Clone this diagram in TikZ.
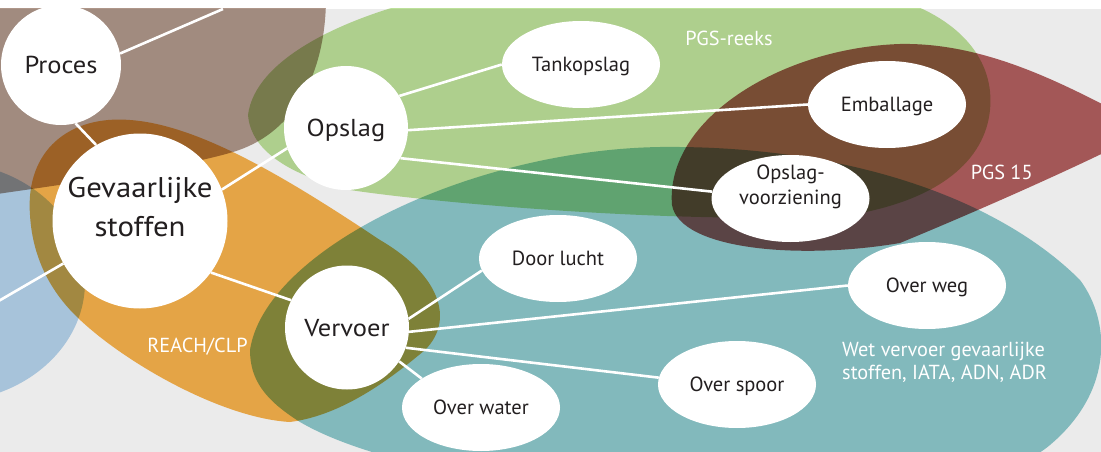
\documentclass[tikz,border=0pt]{standalone}
\usepackage{fontspec}
\setmainfont{PT Sans}
\newfontfamily\widefont[FakeStretch=1.08]{PT Sans}
\usetikzlibrary{shapes.geometric}
\definecolor{bggray}{HTML}{EBEBEB}
\definecolor{cbrown}{HTML}{AF978A}
\definecolor{cblue}{HTML}{B6D4ED}
\definecolor{corange}{HTML}{F8B34D}
\definecolor{cgreen}{HTML}{BDE19A}
\definecolor{cred}{HTML}{B15F5F}
\definecolor{cteal}{HTML}{8EC9CC}
\definecolor{txt}{HTML}{231F20}
\begin{document}
\begin{tikzpicture}[x=1pt,y=-1pt,
  blob/.style={blend mode=multiply},
  bigc/.style={circle, fill=white, inner sep=0pt, text=txt, align=center,
    font=\widefont\fontsize{24.5}{28}\selectfont, text height=17pt, text depth=0pt},
  smalle/.style={ellipse, fill=white, minimum width=158pt, minimum height=87pt,
    inner sep=0pt, text=txt, align=center,
    font=\fontsize{20.5}{25}\selectfont, text height=14.3pt, text depth=0pt},
  conn/.style={white, line width=2.6pt},
  lbl/.style={text=white, inner sep=0pt, font=\fontsize{20.3}{23.3}\selectfont,
    text height=14pt, text depth=0pt}
]
\useasboundingbox (0,0) rectangle (1101,452);
\fill[white] (0,0) rectangle (1101,452);
\begin{scope}
\clip (0,9) rectangle (1101,452);
\fill[bggray] (0,9) rectangle (1101,452);
% blue
\fill[blob, cblue] (-55,282) ellipse [x radius=140, y radius=120];
% brown
\fill[blob, cbrown] (-10,0) -- (326,0) .. controls (325,80) and (290,135) .. (233,152)
  .. controls (180,168) and (60,185) .. (-10,195) -- cycle;
% orange
\fill[blob, corange] (30,215) .. controls (25,150) and (70,115) .. (130,120)
  .. controls (200,125) and (290,180) .. (380,240)
  .. controls (440,275) and (455,320) .. (425,350)
  .. controls (395,375) and (345,415) .. (290,422)
  .. controls (220,418) and (120,360) .. (75,315)
  .. controls (45,285) and (32,250) .. (30,215) -- cycle;
% green
\fill[blob, cgreen] (248,115) .. controls (255,60) and (340,20) .. (420,0)
  -- (900,0) .. controls (960,20) and (995,60) .. (990,110)
  .. controls (985,160) and (940,200) .. (850,215)
  .. controls (700,225) and (450,205) .. (350,190)
  .. controls (270,170) and (250,140) .. (248,115) -- cycle;
% red
\fill[blob, cred] (672,205) .. controls (665,120) and (780,48) .. (900,44)
  .. controls (1000,42) and (1090,100) .. (1150,128)
  .. controls (1150,132) and (1040,185) .. (900,243)
  .. controls (800,260) and (680,250) .. (672,205) -- cycle;
% teal
\fill[blob, cteal] (250,350) .. controls (265,250) and (470,150) .. (660,147)
  .. controls (850,145) and (1000,200) .. (1080,280)
  .. controls (1110,320) and (1115,390) .. (1050,445)
  .. controls (950,530) and (450,510) .. (300,422)
  .. controls (265,400) and (250,380) .. (250,350) -- cycle;

% region labels
\node[lbl] (lpgs) at (729,38.3) {PGS-reeks};
\node[lbl] (lpgs15) at (1001.7,172.5) {PGS 15};
\node[lbl] (lreach) at (197.5,345.8) {REACH/CLP};
\node[lbl, anchor=north west, align=left] (lwet) at (842,365.5) {Wet vervoer gevaarlijke\\stoffen, IATA, ADN, ADR};

% nodes
\node[bigc, minimum size=120pt] (proces) at (61,65) {Proces};
\node[bigc, minimum size=175pt, font=\widefont\fontsize{28.5}{38.3}\selectfont,
  text height=30pt, text depth=0pt] (gev) at (140,221) {Gevaarlijke\\stoffen};
\node[bigc, minimum size=124pt] (opslag) at (346,128) {Opslag};
\node[bigc, minimum size=124pt] (vervoer) at (347,327.5) {Vervoer};
\node[smalle] (tank) at (581,64.5) {Tankopslag};
\node[smalle] (emb) at (887,104.5) {Emballage};
\node[smalle, text height=14pt, text depth=2.6pt] (vz) at (790.5,198.5) {Opslag-\\voorziening};
\node[smalle] (lucht) at (558,258.5) {Door lucht};
\node[smalle] (weg) at (927,285.5) {Over weg};
\node[smalle] (spoor) at (737,384.5) {Over spoor};
\node[smalle] (water) at (481,407.5) {Over water};

\coordinate (ptop) at (223,9);
\coordinate (gleft) at (-10,306);

% connectors
\draw[conn] (proces.11) -- (ptop);
\draw[conn] (proces.-76) -- (gev.120);
\draw[conn] (gev.209) -- (gleft);
\draw[conn] (gev.21) -- (opslag.199);
\draw[conn] (gev.-36) -- (vervoer.154);
\draw[conn] (opslag.31) -- (tank.west);
\draw[conn] (opslag.-2) -- (emb.west);
\draw[conn] (opslag.-29) -- (vz.175);
\draw[conn] (vervoer.8) -- (lucht.189);
\draw[conn] (vervoer.-4) -- (weg.west);
\draw[conn] (vervoer.-19) -- (spoor.175);
\draw[conn] (vervoer.-33) -- (water.154);
\end{scope}
\end{tikzpicture}
\end{document}
